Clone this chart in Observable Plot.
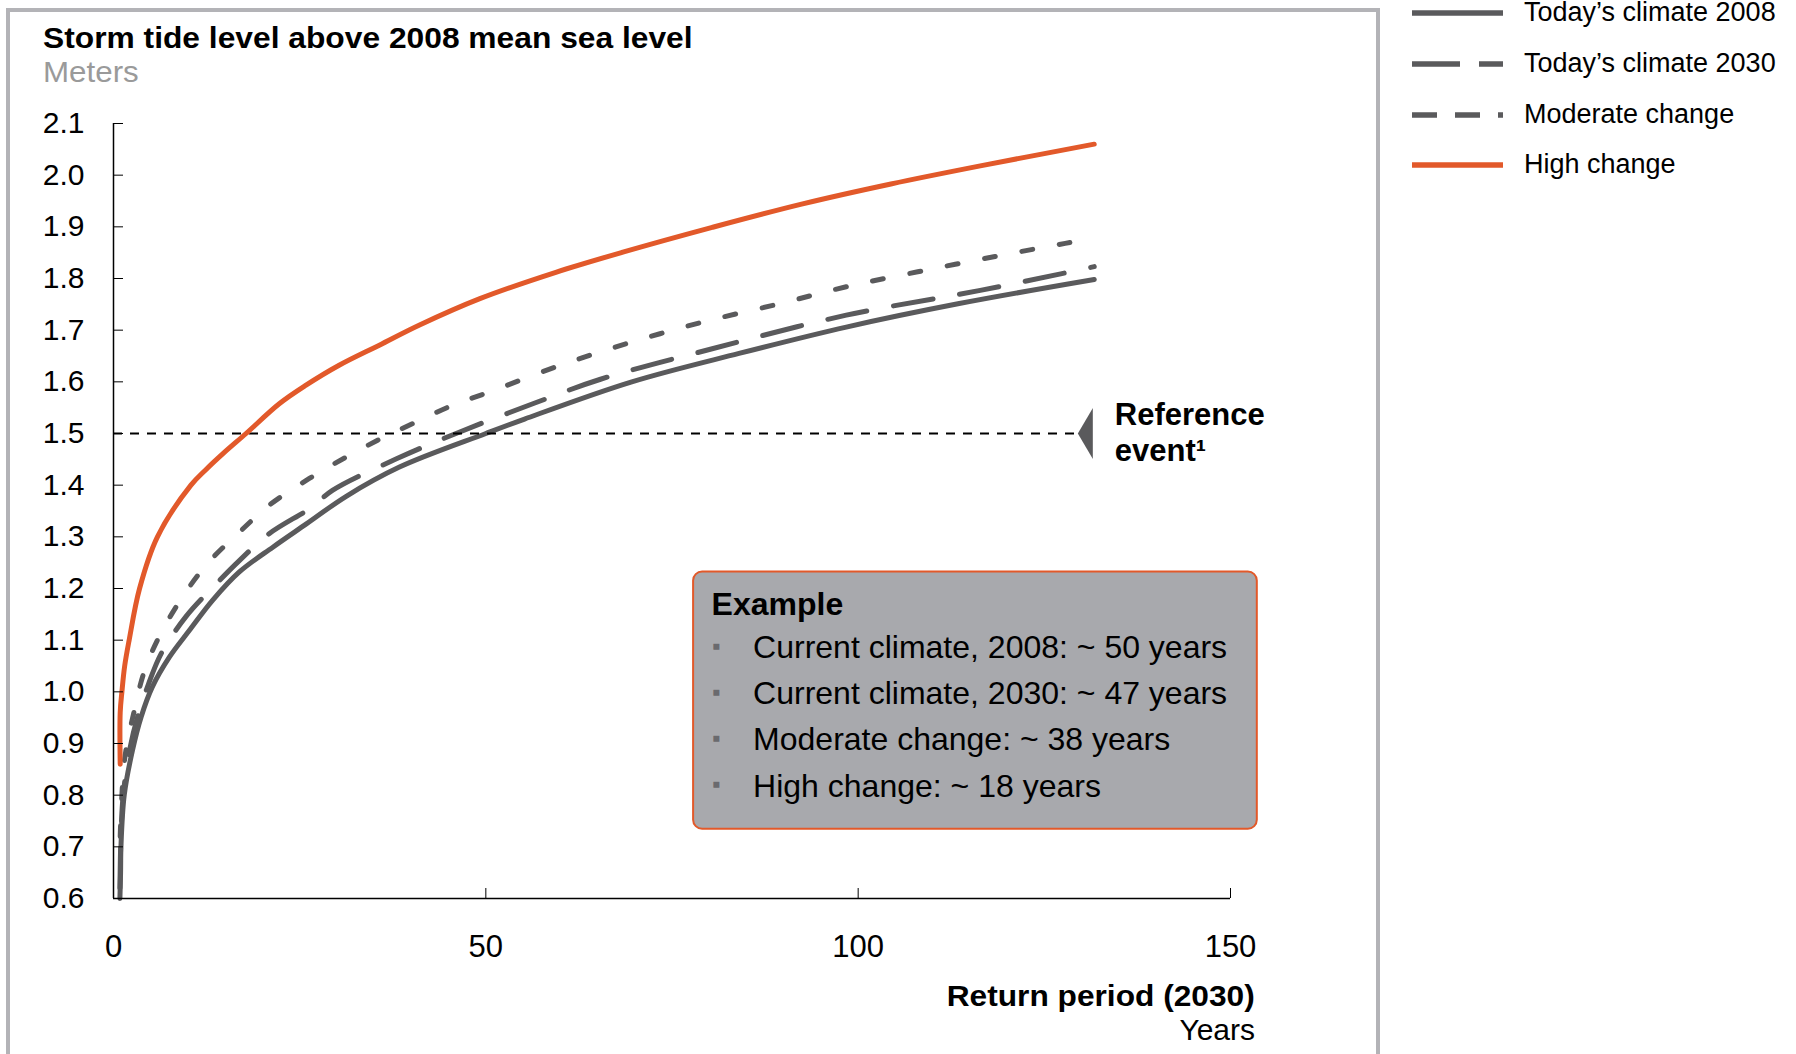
<!DOCTYPE html>
<html>
<head>
<meta charset="utf-8">
<script src="https://cdn.jsdelivr.net/npm/d3@7"></script>
<script src="https://cdn.jsdelivr.net/npm/@observablehq/plot@0.6"></script>
<style>
  html, body { margin: 0; padding: 0; background: #fff; }
  body { width: 1796px; height: 1054px; position: relative; overflow: hidden;
         font-family: "Liberation Sans", Arial, sans-serif; color: #000; }
  #frame { position: absolute; left: 6px; top: 8px; width: 1366px; height: 1200px;
           border: 4px solid #b3b3b7; border-bottom: none; }
  #chart { position: absolute; left: 0; top: 0; }
  .title { position: absolute; left: 43px; top: 23.7px; font-size: 29px; line-height: 29px;
           font-weight: bold; white-space: nowrap; transform: scaleX(1.095); transform-origin: left top; }
  .subtitle { position: absolute; left: 43px; top: 57.9px; font-size: 29px; line-height: 29px;
              color: #9a9a9a; white-space: nowrap; transform: scaleX(1.08); transform-origin: left top; }
  .xtitle { position: absolute; right: 541px; top: 980.9px; font-size: 30px; line-height: 30px;
            font-weight: bold; white-space: nowrap; transform: scaleX(1.056); transform-origin: right top; }
  .xunit { position: absolute; right: 541px; top: 1015.3px; font-size: 30px; line-height: 30px;
           white-space: nowrap; }
  .legend-row { position: absolute; left: 1412px; height: 27px; display: flex; align-items: center;
                font-size: 27px; line-height: 27px; white-space: nowrap; }
  .legend-row svg { margin-right: 21px; }
</style>
</head>
<body>
<div id="frame"></div>
<div id="chart"></div>
<div class="title">Storm tide level above 2008 mean sea level</div>
<div class="subtitle">Meters</div>
<div class="xtitle">Return period (2030)</div>
<div class="xunit">Years</div>
<div id="legend"></div>
<script>
// ---------- data (return period in years, storm tide level in meters) ----------
const today2008 = [[0.86,0.60],[0.95,0.65],[1.0,0.70],[1.44,0.80],[2.55,0.887],[3.7,0.951],[5.2,1.009],
  [7.5,1.067],[10.2,1.119],[13.3,1.177],[16.9,1.232],[21.4,1.280],[25.9,1.325],[31.2,1.378],[38.4,1.435],
  [50.0,1.500],[55.2,1.528],[69.6,1.600],[84.0,1.655],[98.4,1.706],[113.4,1.751],[131.7,1.798]];
const today2030 = [[0.86,0.62],[1.0,0.72],[1.3,0.80],[2.2,0.89],[3.3,0.955],[4.7,1.015],[6.4,1.074],
  [9.7,1.145],[13.8,1.209],[16.9,1.254],[20.9,1.306],[26.7,1.358],[29.4,1.390],[38.0,1.451],[46.5,1.503],
  [56.4,1.558],[65.4,1.605],[80.4,1.664],[98.4,1.729],[116.4,1.777],[127.2,1.809],[131.7,1.823]];
const moderateChange = [[0.9,0.72],[1.5,0.87],[2.8,0.964],[4.1,1.038],[6.1,1.106],[9.1,1.180],[12.6,1.248],
  [16.9,1.309],[20.9,1.361],[26.3,1.413],[31.2,1.454],[35.9,1.490],[40.6,1.522],[45.6,1.555],[50.4,1.580],
  [60.0,1.632],[69.6,1.677],[79.2,1.716],[89.4,1.751],[98.4,1.784],[108.0,1.813],[118.2,1.842],[127.8,1.868],[131.7,1.877]];
const highChange = [[0.90,0.86],[0.90,0.96],[1.13,1.00],[1.5,1.05],[2.1,1.10],[3.5,1.20],[5.9,1.30],
  [10.4,1.40],[12.4,1.43],[14.7,1.461],[17.8,1.50],[22.3,1.558],[25.8,1.593],[30.3,1.632],[35.7,1.671],
  [41.1,1.710],[49.2,1.761],[59.4,1.812],[68.4,1.851],[80.4,1.899],[92.4,1.944],[104.4,1.983],
  [116.4,2.018],[131.7,2.060]];

const seriesNames = ["Today\u2019s climate 2008", "Today\u2019s climate 2030", "Moderate change", "High change"];
const xTicks = [0, 50, 100, 150];
const yTicks = [0.6, 0.7, 0.8, 0.9, 1.0, 1.1, 1.2, 1.3, 1.4, 1.5, 1.6, 1.7, 1.8, 1.9, 2.0, 2.1];

const referenceLevel = 1.5;
const referenceEnd = 129.5;
const referenceLabel = "Reference\nevent\u00b9";
const exampleTitle = "Example";
const exampleLines = ["Current climate, 2008: ~ 50 years", "Current climate, 2030: ~ 47 years",
                      "Moderate change: ~ 38 years", "High change: ~ 18 years"];
const exampleBox = {x1: 77.9, x2: 153.6, y1: 0.734, y2: 1.232};

// ---------- styles ----------
const gray = "#5a5a5c";
const orange = "#e2592a";
const styles = [
  {data: today2008, stroke: gray, dash: null},
  {data: today2030, stroke: gray, dash: "40,27"},
  {data: moderateChange, stroke: gray, dash: "11,27"},
  {data: highChange, stroke: orange, dash: null}
];
const legendDash = [null, "48,19", "25,18", null];

const pointer = {draw(ctx) { ctx.moveTo(0, 0); ctx.lineTo(15, -25.5); ctx.lineTo(15, 25.5); ctx.closePath(); }};

const lineMark = (s) => Plot.line(s.data, {x: d => d[0], y: d => d[1], stroke: s.stroke, strokeWidth: 5,
  strokeDasharray: s.dash ?? undefined, curve: "catmull-rom", strokeLinejoin: "round"});

const chart = Plot.plot({
  width: 1796, height: 1054,
  marginLeft: 113, marginRight: 566, marginTop: 123, marginBottom: 156,
  x: {domain: [0, 150]},
  y: {domain: [0.6, 2.1]},
  style: {fontFamily: '"Liberation Sans", Arial, sans-serif', color: "#000", background: "transparent", overflow: "visible"},
  marks: [
    Plot.rect([exampleBox], {x1: "x1", x2: "x2", y1: "y1", y2: "y2", fill: "#a8a9ad", stroke: orange, strokeWidth: 2, rx: 9}),
    Plot.text([exampleBox], {x: "x1", y: "y2", dx: 18, dy: 20, text: () => exampleTitle, textAnchor: "start",
      lineAnchor: "top", fontSize: 32, fontWeight: "bold", fill: "#000"}),
    Plot.text([exampleBox], {x: "x1", y: "y2", dx: 59.5, dy: 53.2, text: () => exampleLines.join("\n"),
      textAnchor: "start", lineAnchor: "top", fontSize: 32, lineHeight: 46.2 / 32, fill: "#000"}),
    Plot.text([exampleBox], {x: "x1", y: "y2", dx: 23, dy: 49.1, text: () => exampleLines.map(() => "\u25aa").join("\n"),
      textAnchor: "middle", lineAnchor: "top", fontSize: 24, lineHeight: 46.2 / 24, fill: "#6a6a6e"}),
    ...styles.slice(0, 3).map(lineMark),
    Plot.ruleY([referenceLevel], {x1: 0, x2: referenceEnd, stroke: "#000", strokeWidth: 2, strokeDasharray: "9,8"}),
    Plot.dot([referenceLevel], {x: () => referenceEnd, y: d => d, symbol: pointer, fill: gray, stroke: null}),
    Plot.text([referenceLevel], {x: () => referenceEnd, y: d => d, dx: 37, dy: -2, text: () => referenceLabel,
      textAnchor: "start", lineAnchor: "middle", fontSize: 31, fontWeight: "bold", lineHeight: 1.18, fill: "#000"}),
    lineMark(styles[3]),
    Plot.ruleX([0], {strokeWidth: 1.5}),
    Plot.ruleY([0.6], {strokeWidth: 1.5}),
    Plot.axisY({ticks: yTicks, tickFormat: d3.format(".1f"), tickSize: -10, tickPadding: 39, fontSize: 30, label: null}),
    Plot.axisX({ticks: xTicks, tickFormat: d3.format("d"), tickSize: -10, tickPadding: 46, fontSize: 31, label: null})
  ]
});
document.getElementById("chart").appendChild(chart);

// ---------- legend ----------
const legendTops = [-1, 50, 101, 151];
const legend = document.getElementById("legend");
seriesNames.forEach((name, i) => {
  const row = document.createElement("div");
  row.className = "legend-row";
  row.style.top = legendTops[i] + "px";
  const dash = legendDash[i] ? ` stroke-dasharray="${legendDash[i]}"` : "";
  row.innerHTML = `<svg width="91" height="8"><line x1="0" x2="91" y1="4" y2="4" stroke="${styles[i].stroke}" stroke-width="5.7"${dash}/></svg><span>${name}</span>`;
  legend.appendChild(row);
});
</script>
</body>
</html>
